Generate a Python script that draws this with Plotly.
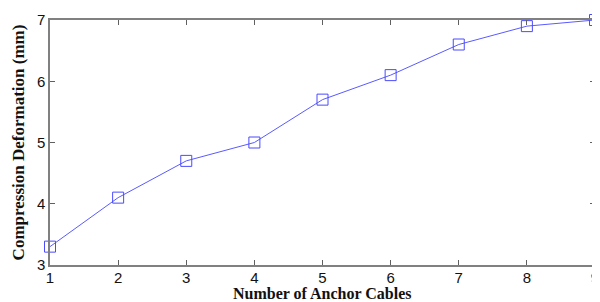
import plotly.graph_objects as go

anchor_cables = [1, 2, 3, 4, 5, 6, 7, 8, 9]
deformation_mm = [3.3, 4.1, 4.7, 5.0, 5.7, 6.1, 6.6, 6.9, 7.0]
x_ticks = [1, 2, 3, 4, 5, 6, 7, 8, 9]
y_ticks = [3, 4, 5, 6, 7]

fig = go.Figure()
fig.add_trace(go.Scatter(
    x=anchor_cables, y=deformation_mm, mode="lines+markers",
    line=dict(color="#5a5aff", width=1),
    marker=dict(symbol="square-open", size=11, color="#4a4aff", line=dict(width=1)),
    cliponaxis=False, showlegend=False,
))

axis_common = dict(
    showgrid=False, zeroline=False, showline=True, linecolor="#808080", linewidth=1.5,
    mirror="ticks", ticks="inside", ticklen=5, tickcolor="#606060", tickwidth=1,
    automargin=False,
    tickfont=dict(family="Liberation Sans, Arial", size=15, color="#111"),
)
fig.update_xaxes(range=[1, 9], tickvals=x_ticks, ticklabelstandoff=-2, **axis_common)
fig.update_yaxes(range=[3, 7], tickvals=y_ticks, **axis_common,
                 title=dict(text="<b>Compression Deformation (mm)</b>", standoff=8,
                            font=dict(family="Liberation Serif, Times New Roman", size=17, color="#111")))
fig.add_annotation(
    text="<b>Number of Anchor Cables</b>", xref="paper", yref="paper",
    x=0.5, y=0, xanchor="center", yanchor="middle", yshift=-28, showarrow=False,
    borderpad=0,
    font=dict(family="Liberation Serif, Times New Roman", size=16, color="#111"),
)
fig.update_layout(
    width=592, height=294, margin=dict(l=42, r=5, t=12, b=37),
    plot_bgcolor="white", paper_bgcolor="white",
)
fig.write_html("out.html")
